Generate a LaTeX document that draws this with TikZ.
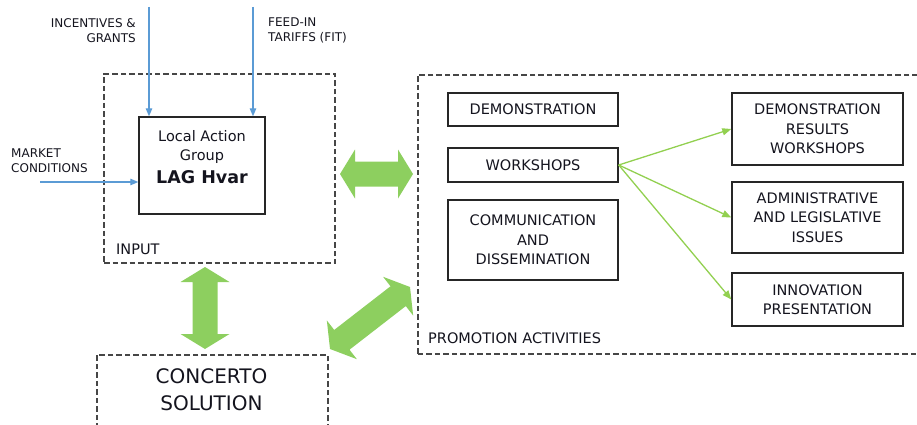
\documentclass[tikz,border=0pt]{standalone}
\usepackage{fontspec}
\setmainfont{DejaVu Sans}
\usetikzlibrary{arrows.meta,calc}
\definecolor{gblue}{RGB}{91,155,213}
\definecolor{ggreen}{RGB}{146,208,80}
\definecolor{bgreen}{RGB}{141,207,95}
\definecolor{dgray}{RGB}{70,70,70}
\definecolor{txt}{RGB}{20,20,30}
\newcommand\dblarrow[2]{%
  \path ($(#1)!15pt!(#2)$) coordinate (#1h) ($(#2)!15pt!(#1)$) coordinate (#2h);
  \fill[bgreen] (#1) -- ($(#1h)!24.5pt!90:(#2)$) -- ($(#1h)!12.5pt!90:(#2)$)
    -- ($(#2h)!12.5pt!-90:(#1)$) -- ($(#2h)!24.5pt!-90:(#1)$) -- (#2)
    -- ($(#2h)!24.5pt!90:(#1)$) -- ($(#2h)!12.5pt!90:(#1)$)
    -- ($(#1h)!12.5pt!-90:(#2)$) -- ($(#1h)!24.5pt!-90:(#2)$) -- cycle;}
\begin{document}
\begin{tikzpicture}[x=1pt,y=-1pt,
  dashbox/.style={draw=dgray, line width=1.6pt, dash pattern=on 5.5pt off 3pt, rectangle, inner sep=0pt},
  solidbox/.style={draw=black!85, line width=1.4pt, rectangle, inner sep=0pt, align=center, text=txt, font=\fontsize{14.5}{19.5}\selectfont},
  lbl/.style={text=txt, inner sep=0pt},
  small/.style={lbl, font=\fontsize{12}{15}\selectfont},
  mid/.style={lbl, font=\fontsize{14.5}{19}\selectfont},
  bluearrow/.style={draw=gblue, line width=1.2pt, -{Triangle[length=8pt,width=6.5pt]}},
  greenarrow/.style={draw=ggreen, line width=1.3pt, -{Triangle[length=9pt,width=7pt]}}]
\useasboundingbox (0,0) rectangle (917,425);
% input block
\node[dashbox, minimum width=231pt, minimum height=189pt] (input) at (219.5,168.5) {};
\node[mid, anchor=west] (inputlbl) at (116,249) {INPUT};
\node[solidbox, minimum width=126pt, minimum height=97pt] (lag) at (202,165.5) {};
\node[mid, align=center] (lagtxt) at (202,157) {Local Action\\Group\\[4pt]{\fontsize{17.5}{19}\selectfont\bfseries LAG Hvar}};
% outside labels
\node[small, anchor=east, align=right] (inclbl) at (136,30.5) {INCENTIVES \&\\GRANTS};
\node[small, anchor=west, align=left] (fitlbl) at (268,30.5) {FEED-IN\\TARIFFS (FIT)};
\node[small, anchor=west, align=left] (mktlbl) at (11,160.5) {MARKET\\CONDITIONS};
\coordinate (incsrc) at (149,7);
\coordinate (fitsrc) at (253,7);
\coordinate (mktsrc) at (40,182);
\draw[bluearrow] (incsrc) -- (incsrc |- lag.north);
\draw[bluearrow] (fitsrc) -- (fitsrc |- lag.north);
\draw[bluearrow] (mktsrc) -- (mktsrc -| lag.west);
% promotion block
\node[dashbox, minimum width=510pt, minimum height=279pt, anchor=north west] (promo) at (417,74) {};
\node[mid, anchor=west] (promolbl) at (428,338) {PROMOTION ACTIVITIES};
\node[solidbox, minimum width=170pt, minimum height=33pt] (demo) at (533,109.5) {DEMONSTRATION};
\node[solidbox, minimum width=170pt, minimum height=34pt] (ws) at (533,165) {WORKSHOPS};
\node[solidbox, minimum width=170pt, minimum height=80pt] (comm) at (533,240) {COMMUNICATION\\AND\\DISSEMINATION};
\node[solidbox, minimum width=171pt, minimum height=72pt] (drw) at (817.5,129) {DEMONSTRATION\\RESULTS\\WORKSHOPS};
\node[solidbox, minimum width=171pt, minimum height=71pt] (adm) at (817.5,217.5) {ADMINISTRATIVE\\AND LEGISLATIVE\\ISSUES};
\node[solidbox, minimum width=171pt, minimum height=53pt] (inn) at (817.5,299.5) {INNOVATION\\PRESENTATION};
\draw[greenarrow] (ws.east) -- (drw.west);
\draw[greenarrow] (ws.east) -- (adm.west);
\draw[greenarrow] (ws.east) -- (inn.west);
% concerto
\node[dashbox, minimum width=231pt, minimum height=90pt, anchor=north west] (conc) at (96,354) {};
\node[lbl, align=center, font=\fontsize{20}{27}\selectfont] (conctxt) at (211.5,389.5) {CONCERTO\\SOLUTION};
% big double arrows
\coordinate (ha) at (340,174); \coordinate (hb) at (413,174);
\coordinate (va) at (205,267); \coordinate (vb) at (205,349);
\coordinate (da) at (330,349); \coordinate (db) at (410,287);
\dblarrow{ha}{hb}
\dblarrow{va}{vb}
\dblarrow{da}{db}
\end{tikzpicture}
\end{document}
